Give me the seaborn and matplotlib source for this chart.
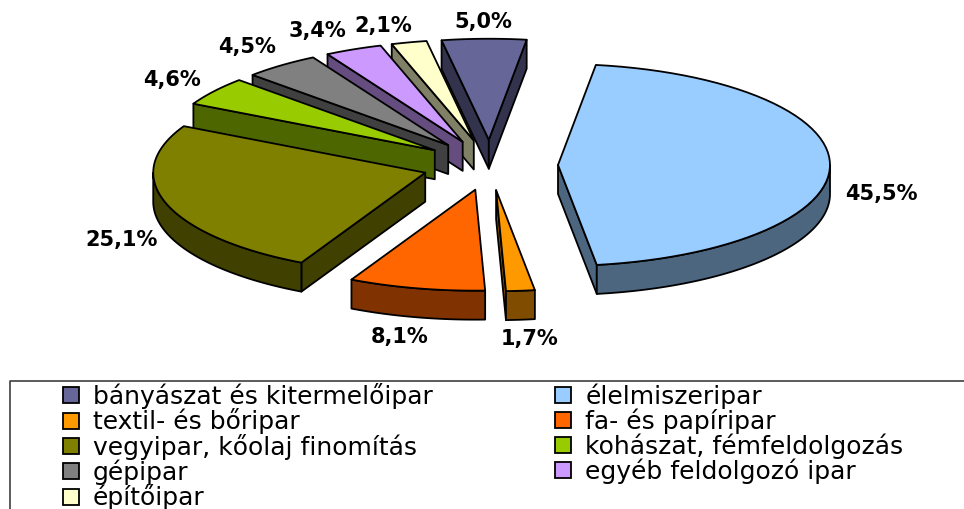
import numpy as np
import matplotlib
matplotlib.use("Agg")
import matplotlib.pyplot as plt
import seaborn as sns
from matplotlib.patches import Patch

categories = ["bányászat és kitermelőipar", "élelmiszeripar", "textil- és bőripar",
              "fa- és papíripar", "vegyipar, kőolaj finomítás", "kohászat, fémfeldolgozás",
              "gépipar", "egyéb feldolgozó ipar", "építőipar"]
shares = [5.0, 45.5, 1.7, 8.1, 25.1, 4.6, 4.5, 3.4, 2.1]
top_colors = ["#666699", "#99CCFF", "#FF9900", "#FF6600", "#808000",
              "#99CC00", "#808080", "#CC99FF", "#FFFFCC"]

# layout of the fake 3D pie, in pixels
CX, CY = 490, 165
RX, RY = 272, 101
EXPLODE = 0.25
DEPTH = 29
START = -10
LW = 1.3
label_pos = [(483, 22), (881, 194), (530, 339), (400, 337), (122, 240),
             (172, 80), (247, 47), (317, 31), (383, 26)]


def rim(t):
    t = np.radians(t)
    return np.column_stack([RX * np.sin(t), -RY * np.cos(t)])


def draw_slice(ax, t0, t1, color):
    side = tuple(c * 0.5 for c in matplotlib.colors.to_rgb(color))
    mid = (t0 + t1) / 2
    apex = np.array([CX, CY]) + EXPLODE * rim(mid)[0]
    arc = apex + rim(np.linspace(t0, t1, 60))
    down = np.array([0, DEPTH])

    # radial faces, only the ones turned to the viewer
    mid_pt = apex + rim(mid)[0]
    for edge in (arc[0], arc[-1]):
        d = edge - apex
        # the face shows when the slice lies above this edge on screen
        y_on_edge = apex[1] + d[1] * (mid_pt[0] - apex[0]) / d[0] if abs(d[0]) > 1e-6 else None
        if y_on_edge is not None and mid_pt[1] < y_on_edge:
            quad = np.array([apex, edge, edge + down, apex + down])
            ax.fill(quad[:, 0], quad[:, 1], fc=side, ec="black", lw=LW, joinstyle="round")

    # outer wall on the front half of the ellipse
    lo, hi = max(t0, 90), min(t1, 270)
    if hi > lo:
        front = apex + rim(np.linspace(lo, hi, 60))
        wall = np.vstack([front, (front + down)[::-1]])
        ax.fill(wall[:, 0], wall[:, 1], fc=side, ec="black", lw=LW, joinstyle="round")

    top = np.vstack([apex, arc])
    ax.fill(top[:, 0], top[:, 1], fc=color, ec="black", lw=LW, joinstyle="round")


sns.set_theme(style="white")
plt.rcParams["font.family"] = ["DejaVu Sans"]
palette = sns.color_palette(top_colors)

fig = plt.figure(figsize=(9.64, 5.09), dpi=100)
ax = fig.add_axes([0, 0, 1, 1])
ax.set_xlim(0, 964)
ax.set_ylim(509, 0)
ax.axis("off")

sweeps = np.array(shares) / sum(shares) * 360
ends = START + np.cumsum(sweeps)
starts = ends - sweeps
order = np.argsort(-np.cos(np.radians((starts + ends) / 2)))
for i in order:
    draw_slice(ax, starts[i], ends[i], top_colors[i])

for value, (x, y) in zip(shares, label_pos):
    ax.text(x, y, f"{value:.1f}%".replace(".", ","), ha="center", va="center",
            fontsize=15, fontweight="bold", color="black")

# legend box runs off the right and bottom of the picture
ax.plot([1000, 10, 10], [381, 381, 520], color="#404040", lw=1.2, clip_on=True)

handles = [Patch(fc=c, ec="black", lw=LW) for c in palette]
# matplotlib fills by column, the original reads by row
handles_sorted = handles[::2] + handles[1::2]
labels_sorted = categories[::2] + categories[1::2]
ax.legend(handles_sorted, labels_sorted, ncol=2, frameon=False, fontsize=18,
          labelcolor="black", loc="upper left",
          bbox_to_anchor=(63 / 964, 1 - 383 / 509), borderaxespad=0,
          borderpad=0, labelspacing=-0.02, handlelength=0.64, handleheight=0.62,
          handletextpad=0.56, columnspacing=4.9)

fig.savefig("out.png", dpi=100)
